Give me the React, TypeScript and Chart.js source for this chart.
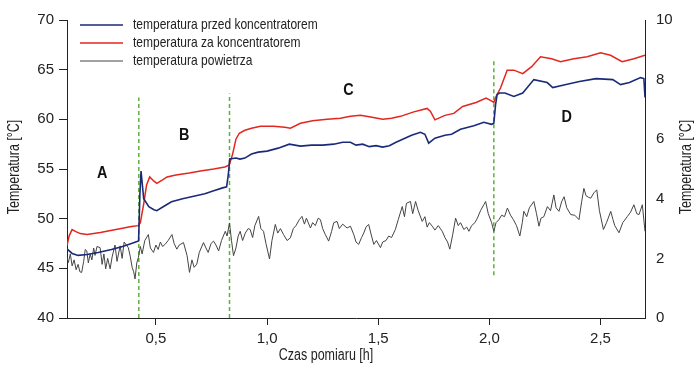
import React, { useEffect, useRef } from 'react';
import { Chart, registerables } from 'chart.js';

Chart.register(...registerables);

const FONT = "'Liberation Sans', Arial, sans-serif";
const NARROW = 0.8;

// Temperature before concentrator (left axis, °C)
const TIME_BEFORE = [0.100, 0.123, 0.150, 0.190, 0.240, 0.300, 0.350, 0.390, 0.415, 0.422, 0.428, 0.433, 0.445, 0.468, 0.491, 0.504, 0.540, 0.570, 0.620, 0.680, 0.720, 0.760, 0.800, 0.818, 0.826, 0.832, 0.860, 0.878, 0.900, 0.930, 0.960, 1.000, 1.050, 1.100, 1.150, 1.200, 1.250, 1.300, 1.340, 1.375, 1.400, 1.430, 1.460, 1.490, 1.520, 1.550, 1.580, 1.610, 1.650, 1.690, 1.710, 1.727, 1.755, 1.800, 1.830, 1.870, 1.930, 1.975, 2.010, 2.020, 2.028, 2.035, 2.045, 2.070, 2.110, 2.150, 2.200, 2.260, 2.285, 2.345, 2.405, 2.480, 2.555, 2.590, 2.630, 2.680, 2.695, 2.700];
const TEMP_BEFORE = [46.96, 46.5, 46.3, 46.4, 46.6, 46.9, 47.2, 47.5, 47.7, 47.75, 52.5, 54.8, 52.0, 51.2, 50.9, 50.8, 51.3, 51.7, 52.0, 52.3, 52.5, 52.8, 53.1, 53.2, 54.5, 56.0, 56.1, 56.0, 56.1, 56.5, 56.7, 56.8, 57.1, 57.5, 57.3, 57.4, 57.4, 57.5, 57.7, 57.7, 57.4, 57.5, 57.25, 57.35, 57.2, 57.35, 57.7, 58.0, 58.4, 58.7, 58.5, 57.6, 58.1, 58.4, 58.5, 59.0, 59.35, 59.7, 59.5, 59.6, 61.5, 62.5, 62.65, 62.65, 62.3, 62.65, 64.0, 63.7, 63.2, 63.5, 63.8, 64.1, 64.0, 63.5, 63.7, 64.2, 64.1, 62.2];

// Temperature after concentrator (left axis, °C)
const TIME_AFTER = [0.100, 0.110, 0.123, 0.140, 0.160, 0.190, 0.250, 0.320, 0.390, 0.420, 0.430, 0.445, 0.458, 0.472, 0.490, 0.504, 0.530, 0.550, 0.590, 0.650, 0.700, 0.760, 0.810, 0.830, 0.845, 0.860, 0.875, 0.900, 0.930, 0.970, 1.030, 1.080, 1.105, 1.150, 1.205, 1.270, 1.330, 1.375, 1.420, 1.460, 1.520, 1.560, 1.600, 1.660, 1.720, 1.735, 1.755, 1.800, 1.840, 1.880, 1.940, 1.985, 2.005, 2.020, 2.030, 2.050, 2.080, 2.110, 2.150, 2.190, 2.230, 2.280, 2.320, 2.380, 2.440, 2.500, 2.545, 2.597, 2.650, 2.700];
const TEMP_AFTER = [47.3, 48.3, 48.9, 48.7, 48.5, 48.4, 48.6, 48.9, 49.2, 49.3, 49.6, 51.5, 53.4, 54.2, 53.8, 53.55, 53.9, 54.2, 54.4, 54.6, 54.8, 55.0, 55.2, 55.4, 56.5, 58.0, 58.6, 58.9, 59.1, 59.3, 59.3, 59.2, 59.1, 59.6, 59.85, 60.0, 60.1, 60.3, 60.4, 60.25, 60.0, 60.1, 60.3, 60.75, 61.1, 60.8, 59.95, 60.4, 60.6, 61.3, 61.7, 62.15, 61.9, 61.7, 62.3, 63.15, 64.95, 64.95, 64.6, 65.3, 66.3, 66.1, 65.8, 66.1, 66.3, 66.7, 66.45, 65.8, 66.1, 66.45];

// Air temperature (right axis, °C)
const TIME_AIR = [0.100, 0.106, 0.115, 0.123, 0.132, 0.141, 0.150, 0.158, 0.166, 0.175, 0.182, 0.189, 0.196, 0.204, 0.212, 0.220, 0.226, 0.235, 0.249, 0.258, 0.266, 0.274, 0.283, 0.294, 0.303, 0.316, 0.325, 0.339, 0.348, 0.357, 0.376, 0.385, 0.393, 0.400, 0.406, 0.414, 0.421, 0.430, 0.438, 0.450, 0.466, 0.475, 0.489, 0.500, 0.510, 0.520, 0.530, 0.541, 0.555, 0.572, 0.582, 0.594, 0.605, 0.624, 0.640, 0.651, 0.662, 0.672, 0.684, 0.695, 0.714, 0.725, 0.735, 0.748, 0.759, 0.770, 0.782, 0.795, 0.812, 0.820, 0.831, 0.840, 0.849, 0.860, 0.870, 0.879, 0.890, 0.902, 0.915, 0.924, 0.935, 0.945, 0.962, 0.972, 0.984, 0.995, 1.011, 1.022, 1.037, 1.048, 1.060, 1.074, 1.090, 1.105, 1.118, 1.130, 1.145, 1.157, 1.168, 1.177, 1.195, 1.205, 1.217, 1.230, 1.240, 1.250, 1.262, 1.277, 1.290, 1.300, 1.315, 1.325, 1.340, 1.360, 1.375, 1.390, 1.400, 1.412, 1.425, 1.435, 1.445, 1.457, 1.470, 1.480, 1.492, 1.510, 1.520, 1.535, 1.547, 1.560, 1.577, 1.590, 1.608, 1.618, 1.627, 1.645, 1.655, 1.668, 1.680, 1.698, 1.710, 1.720, 1.730, 1.743, 1.755, 1.770, 1.788, 1.800, 1.812, 1.822, 1.835, 1.848, 1.860, 1.870, 1.885, 1.898, 1.908, 1.920, 1.935, 1.946, 1.960, 1.975, 1.983, 1.995, 2.010, 2.020, 2.030, 2.043, 2.055, 2.068, 2.081, 2.095, 2.108, 2.122, 2.137, 2.148, 2.155, 2.168, 2.180, 2.200, 2.212, 2.223, 2.232, 2.245, 2.261, 2.275, 2.290, 2.300, 2.313, 2.325, 2.336, 2.348, 2.366, 2.384, 2.403, 2.415, 2.425, 2.435, 2.446, 2.456, 2.470, 2.483, 2.495, 2.513, 2.527, 2.546, 2.556, 2.564, 2.583, 2.600, 2.621, 2.635, 2.650, 2.663, 2.673, 2.688, 2.700];
const TEMP_AIR = [2.03, 1.86, 2.15, 1.75, 1.95, 1.62, 1.80, 1.55, 1.53, 1.90, 2.30, 2.25, 1.85, 2.15, 1.95, 2.35, 2.10, 2.40, 2.36, 1.80, 2.15, 1.65, 2.00, 1.65, 2.05, 2.45, 1.90, 2.42, 2.00, 2.55, 2.36, 2.05, 1.70, 1.55, 1.31, 1.85, 2.03, 2.40, 2.15, 2.60, 2.80, 2.35, 2.20, 2.45, 2.30, 2.55, 2.40, 2.47, 2.60, 2.80, 2.50, 2.31, 2.45, 2.53, 2.10, 1.53, 1.95, 1.70, 1.81, 2.20, 2.53, 2.35, 2.20, 2.50, 2.58, 2.45, 2.25, 2.60, 2.91, 2.75, 3.19, 2.60, 2.09, 2.35, 2.75, 2.91, 2.60, 2.85, 3.00, 2.97, 2.70, 3.10, 3.41, 3.00, 2.91, 2.50, 1.98, 2.60, 3.14, 2.85, 3.00, 2.80, 2.60, 2.69, 3.00, 3.10, 3.30, 3.41, 3.15, 3.35, 3.02, 3.20, 3.10, 3.35, 3.30, 3.00, 2.80, 2.58, 2.90, 3.20, 3.24, 3.00, 3.15, 3.02, 3.08, 2.80, 2.55, 2.47, 2.70, 2.85, 3.05, 3.14, 2.75, 2.47, 2.60, 2.36, 2.55, 2.60, 2.75, 2.70, 2.97, 3.30, 3.74, 3.40, 3.85, 3.91, 3.50, 3.91, 3.60, 3.24, 3.40, 3.05, 3.20, 3.08, 2.95, 3.10, 2.91, 2.70, 2.55, 2.31, 2.80, 3.35, 3.10, 3.20, 2.97, 3.05, 2.91, 3.10, 3.20, 3.35, 3.60, 3.80, 3.91, 3.50, 3.20, 2.91, 3.20, 3.30, 3.45, 3.40, 3.69, 3.45, 3.30, 3.10, 2.75, 3.20, 3.58, 3.40, 3.70, 3.91, 3.50, 3.08, 3.35, 3.40, 3.74, 3.60, 4.13, 3.70, 3.58, 3.90, 4.07, 3.70, 3.47, 3.45, 3.30, 3.90, 4.35, 4.10, 4.05, 4.02, 4.20, 4.30, 3.60, 2.97, 3.20, 3.58, 3.30, 3.10, 2.86, 3.20, 3.41, 3.55, 3.80, 3.50, 3.47, 3.80, 2.91];

// Stage boundaries (dashed green lines)
const STAGE_TIME = [0.423, 0.831, 2.02];
const STAGE_TOP = [62.2, 62.6, 66.1];
const STAGE_BOTTOM = [40, 40, 44.3];

// Stage letters
const STAGE_LABELS = ['A', 'B', 'C', 'D'];
const STAGE_LABEL_TIME = [0.258, 0.627, 1.366, 2.348];
const STAGE_LABEL_TEMP = [54.6, 58.4, 62.95, 60.17];

const X_TICKS = [0.5, 1.0, 1.5, 2.0, 2.5];

const SERIES_NAMES = ['temperatura przed koncentratorem', 'temperatura za koncentratorem', 'temperatura powietrza'];
const SERIES_COLORS = ['#1b2a78', '#e3261f', '#444444'];
const SERIES_WIDTHS = [1.6, 1.5, 1];

const pairs = (xs: number[], ys: number[]) => xs.map((x, i) => ({ x, y: ys[i] }));

const overlayPlugin = {
  id: 'overlay',
  afterDatasetsDraw(chart: any) {
    const { ctx, scales } = chart;
    const x = scales.x;
    const y = scales.y;
    const narrowText = (t: string, px: number, py: number, align: CanvasTextAlign, rot = 0, sx = NARROW) => {
      ctx.save();
      ctx.translate(px, py);
      if (rot) ctx.rotate(rot);
      ctx.scale(sx, 1);
      ctx.textAlign = align;
      ctx.fillText(t, 0, 0);
      ctx.restore();
    };
    ctx.save();
    ctx.textBaseline = 'middle';
    // stage letters
    ctx.font = `bold 17px ${FONT}`;
    ctx.fillStyle = '#111';
    STAGE_LABELS.forEach((s, i) => {
      narrowText(s, x.getPixelForValue(STAGE_LABEL_TIME[i]), y.getPixelForValue(STAGE_LABEL_TEMP[i]), 'center', 0, 0.85);
    });
    // legend
    ctx.font = `15px ${FONT}`;
    SERIES_NAMES.forEach((name, i) => {
      const ly = 25 + i * 18;
      ctx.strokeStyle = SERIES_COLORS[i];
      ctx.lineWidth = SERIES_WIDTHS[i];
      ctx.beginPath();
      ctx.moveTo(80, ly);
      ctx.lineTo(123, ly);
      ctx.stroke();
      ctx.fillStyle = '#222';
      narrowText(name, 133, ly, 'left');
    });
    // axis titles
    ctx.font = `16px ${FONT}`;
    ctx.fillStyle = '#222';
    narrowText('Czas pomiaru [h]', 326, 356, 'center', 0, 0.78);
    narrowText('Temperatura [°C]', 15, 167, 'center', -Math.PI / 2, 0.78);
    narrowText('Temperatura [°C]', 687, 167, 'center', -Math.PI / 2, 0.78);
    ctx.restore();
  },
};

export default function App() {
  const ref = useRef<HTMLCanvasElement>(null);
  useEffect(() => {
    const canvas = ref.current!;
    const stageSets = STAGE_TIME.map((t, i) => ({
      label: 'stage' + i,
      data: [{ x: t, y: STAGE_BOTTOM[i] }, { x: t, y: STAGE_TOP[i] }],
      borderColor: '#5fae3c',
      borderWidth: 1.5,
      borderDash: [4, 3],
      pointRadius: 0,
      yAxisID: 'y',
      order: 5,
    }));
    const chart = new Chart(canvas, {
      type: 'line',
      data: {
        datasets: [
          ...stageSets,
          {
            label: SERIES_NAMES[2],
            data: pairs(TIME_AIR, TEMP_AIR),
            borderColor: SERIES_COLORS[2],
            borderWidth: SERIES_WIDTHS[2],
            pointRadius: 0,
            yAxisID: 'y2',
            order: 3,
          },
          {
            label: SERIES_NAMES[0],
            data: pairs(TIME_BEFORE, TEMP_BEFORE),
            borderColor: SERIES_COLORS[0],
            borderWidth: SERIES_WIDTHS[0],
            pointRadius: 0,
            yAxisID: 'y',
            order: 1,
          },
          {
            label: SERIES_NAMES[1],
            data: pairs(TIME_AFTER, TEMP_AFTER),
            borderColor: SERIES_COLORS[1],
            borderWidth: SERIES_WIDTHS[1],
            pointRadius: 0,
            yAxisID: 'y',
            order: 2,
          },
        ],
      },
      options: {
        animation: false,
        responsive: true,
        maintainAspectRatio: false,
        parsing: false as any,
        layout: { padding: { top: 16, left: 0, right: 0, bottom: 0 } },
        plugins: { legend: { display: false }, tooltip: { enabled: false } },
        scales: {
          x: {
            type: 'linear',
            min: 0.1,
            max: 2.7,
            afterFit: (s: any) => { s.height = 53; },
            afterBuildTicks: (s: any) => { s.ticks = X_TICKS.map((v) => ({ value: v })); },
            ticks: {
              callback: (v: any) => Number(v).toFixed(1).replace('.', ','),
              font: { family: FONT, size: 15 },
              color: '#222',
              padding: 5,
              autoSkip: false,
              maxRotation: 0,
            },
            grid: { display: true, drawOnChartArea: false, drawTicks: true, tickLength: 7, color: '#222' },
            border: { display: true, color: '#222', width: 1 },
          },
          y: {
            position: 'left',
            min: 40,
            max: 70,
            afterFit: (s: any) => { s.width = 67; },
            ticks: { stepSize: 5, font: { family: FONT, size: 15 }, color: '#222', padding: 5 },
            grid: { display: true, drawOnChartArea: false, drawTicks: true, tickLength: 8, color: '#222' },
            border: { display: true, color: '#222', width: 1 },
          },
          y2: {
            position: 'right',
            min: 0,
            max: 10,
            afterFit: (s: any) => { s.width = 55; },
            ticks: { stepSize: 2, font: { family: FONT, size: 15 }, color: '#222', padding: 11 },
            grid: { display: true, drawOnChartArea: false, drawTicks: false, color: '#222' },
            border: { display: true, color: '#222', width: 1 },
          },
        },
      },
      plugins: [overlayPlugin],
    });
    return () => chart.destroy();
  }, []);
  return (
    <div style={{ position: 'fixed', left: 0, top: 0, width: 700, height: 371, background: '#fff' }}>
      <canvas ref={ref} />
    </div>
  );
}
